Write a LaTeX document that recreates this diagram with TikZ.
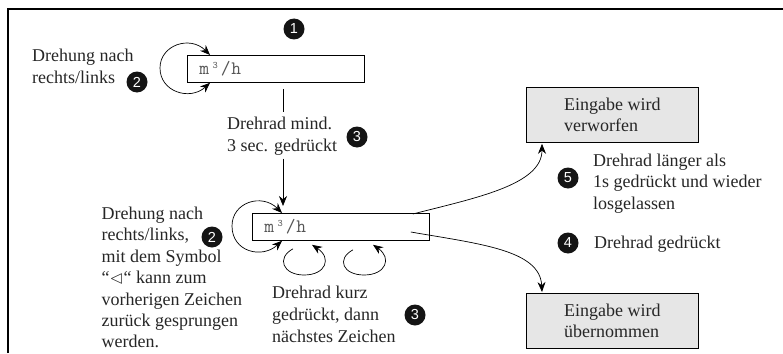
\documentclass[tikz,border=0pt]{standalone}
\usepackage{amssymb}
\usepackage{fontspec}
\newfontfamily\numfont{Liberation Sans}
\newfontfamily\txtfont{Liberation Serif}
\usetikzlibrary{arrows.meta,calc}
\definecolor{txt}{HTML}{262626}
\definecolor{monotxt}{HTML}{555555}
\definecolor{boxgray}{HTML}{E6E6E6}
\newcommand{\dispval}{\makebox[10.5pt][l]{m}\makebox[10.5pt]{\raisebox{6pt}{\fontsize{10}{10}\selectfont 3}}\makebox[10.5pt]{/}\makebox[10.5pt]{h}}
\begin{document}
\begin{tikzpicture}[x=1pt,y=-1pt,
  lbl/.style={font=\txtfont\fontsize{18}{21.7}\selectfont, text=txt, align=left, inner sep=0pt, anchor=west},
  num/.style={circle, fill=black!92, text=white, minimum size=21pt, inner sep=0pt, font=\numfont\fontsize{14.5}{14.5}\selectfont},
  disp/.style={draw, line width=0.8pt, minimum height=27pt, text width=153pt, inner xsep=12pt, inner ysep=0pt, align=left, anchor=north west, font=\ttfamily\fontsize{19}{19}\selectfont, text=monotxt},
  result/.style={draw, fill=boxgray, line width=0.8pt, minimum width=172pt, minimum height=55pt, inner sep=0pt, anchor=north west, align=left, text=txt, font=\txtfont\fontsize{18}{21}\selectfont},
  conn/.style={line width=0.7pt},
  arr/.style={conn, -{Stealth[length=10pt,width=8pt]}},
  both/.style={conn, {Stealth[length=10pt,width=8pt]}-{Stealth[length=10pt,width=8pt]}}
]
\useasboundingbox (0,0) rectangle (783,353);
% frame
\draw[line width=1.3pt] (8,353) -- (8,9) -- (783,9);

% display boxes
\node[disp] (b1) at (187,55) {\dispval};
\node[disp] (b2) at (252,213) {\dispval};

% result boxes
\node[result] (r1) at (526,87) {Eingabe wird\\verworfen};
\node[result] (r2) at (526,293) {Eingabe wird\\übernommen};

% number markers
\node[num] (n1) at (294,29) {1};
\node[num] (n2a) at (137,82) {2};
\node[num] (n3a) at (357,137) {3};
\node[num] (n2b) at (212,237) {2};
\node[num] (n3b) at (415,315) {3};
\node[num] (n5) at (568,178) {5};
\node[num] (n4) at (568,243) {4};

% labels
\node[lbl] (tdreh1) at (32,66.6) {Drehung nach\\rechts/links};
\node[lbl] (tmind) at (227,136.5) {Drehrad mind.\\3 sec. gedrückt};
\node[lbl, font=\txtfont\fontsize{18}{21.4}\selectfont] (tdreh2) at (101.5,277.5) {Drehung nach\\rechts/links,\\mit dem Symbol\\“$\lhd$“ kann zum\\vorherigen Zeichen\\zurück gesprungen\\werden.};
\node[lbl] (tkurz) at (272,314.4) {Drehrad kurz\\gedrückt, dann\\nächstes Zeichen};
\node[lbl] (tlang) at (593,183.4) {Drehrad länger als\\1s gedrückt und wieder\\losgelassen};
\node[lbl] (tged) at (594,243.7) {Drehrad gedrückt};

% loop at first display
\coordinate (l1a) at ($(b1.north west)+(23,0)$);
\coordinate (l1b) at ($(b1.south west)+(23,0)$);
\draw[both] (l1a) .. controls (190,35) and (160,45) .. (160,68) .. controls (160,92) and (190,101) .. (l1b);

% connection from first display to second
\draw[conn] ($(b1.south west)+(96,6)$) -- ($(tmind.north west)+(56,-5)$);
\draw[arr] ($(tmind.south west)+(56,3)$) -- ($(b2.north west)+(31,-7)$);

% loop at second display
\coordinate (l2a) at ($(b2.north west)+(30,0)$);
\coordinate (l2b) at ($(b2.south west)+(30,0)$);
\draw[both] (l2a) .. controls (262,193) and (232,202) .. (232,226) .. controls (232,252) and (262,259) .. (l2b);

% small loops below the second display
\coordinate (s1a) at ($(b2.south west)+(41,8)$);
\coordinate (s1b) at ($(b2.south west)+(60,4)$);
\draw[arr] (s1a) .. controls (276,258) and (283,275) .. (304,275) .. controls (326,275) and (332,258) .. (s1b);
\coordinate (s2a) at ($(b2.south west)+(101,9)$);
\coordinate (s2b) at ($(b2.south west)+(121,4)$);
\draw[arr] (s2a) .. controls (336,259) and (343,275) .. (364,275) .. controls (386,275) and (392,258) .. (s2b);

% outcome arrows
\draw[arr] ($(b2.north east)+(-17,1)$) .. controls (475,198) and (542,185) .. ($(r1.south west)+(16,1)$);
\draw[arr] ($(b2.north east)+(-19,19)$) .. controls (480,244) and (540,250) .. ($(r2.north west)+(16,-1)$);
\end{tikzpicture}
\end{document}
